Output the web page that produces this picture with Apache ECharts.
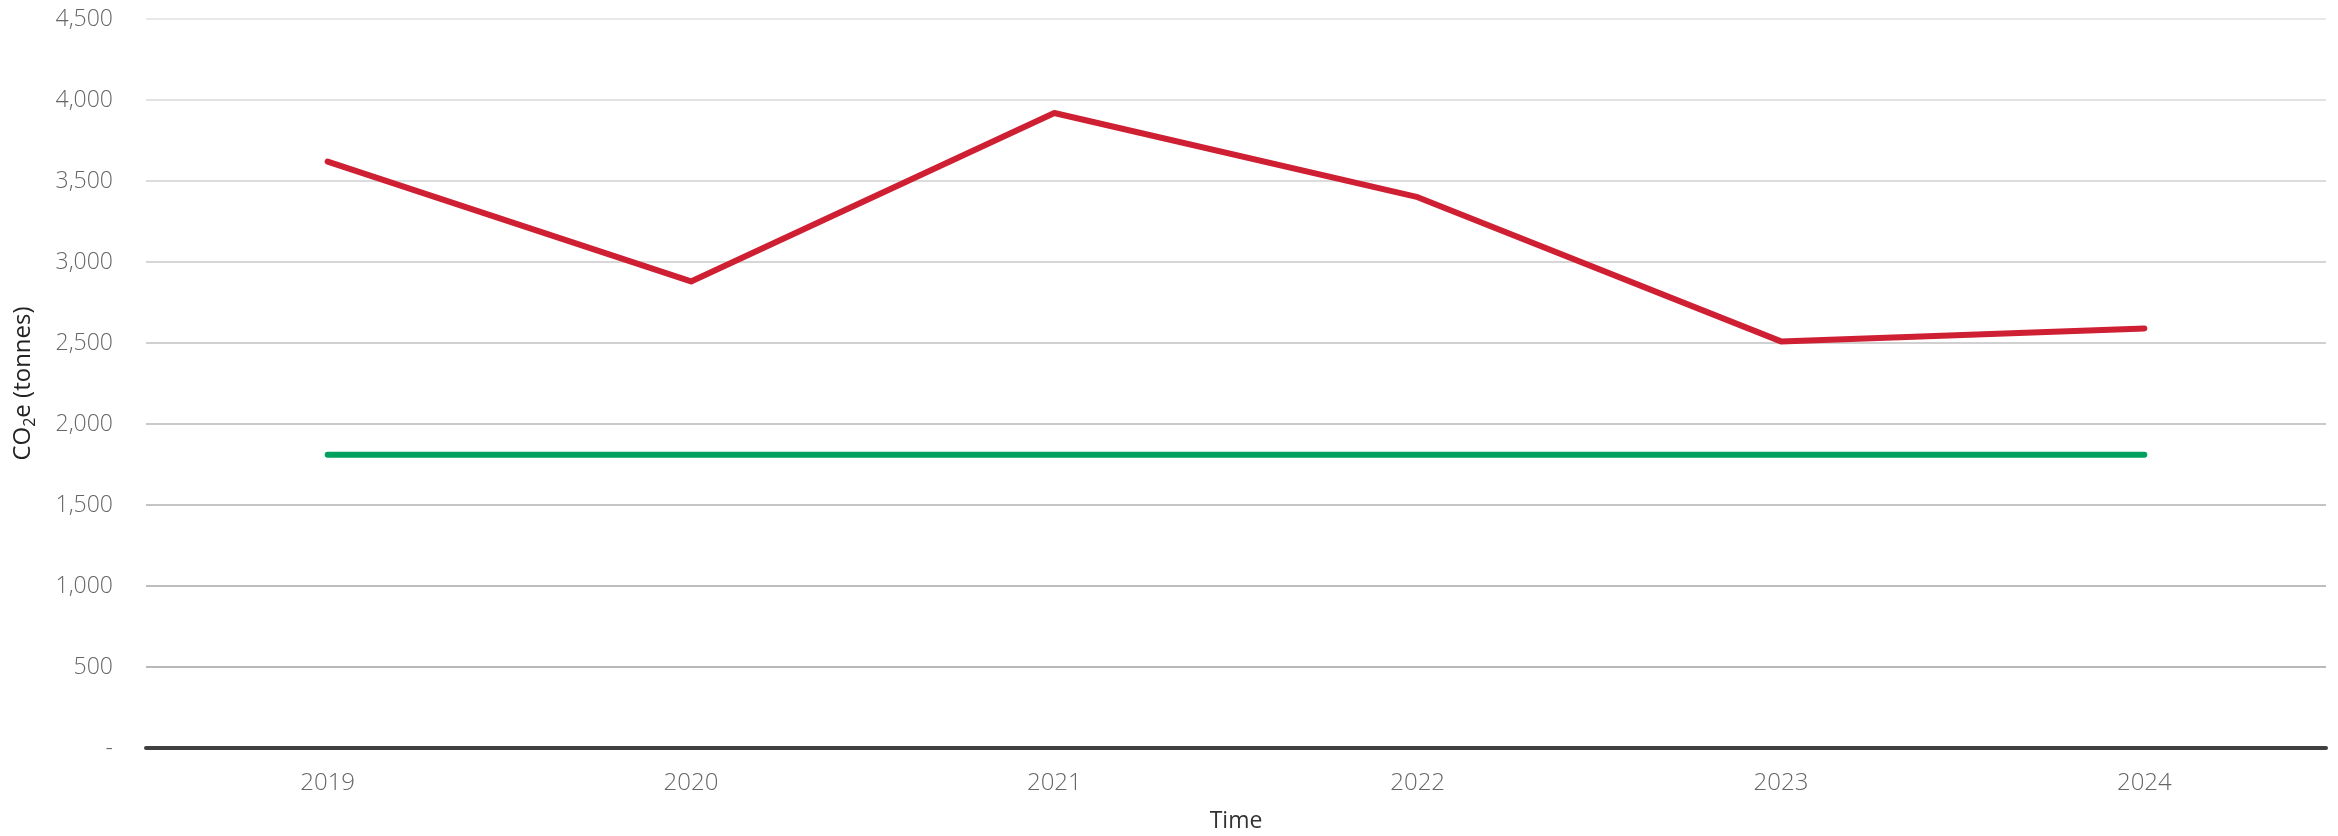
<!DOCTYPE html>
<html>
<head>
<meta charset="utf-8">
<script src="https://cdn.jsdelivr.net/npm/echarts@6/dist/echarts.min.js"></script>
<style>
  html, body { margin: 0; padding: 0; background: #fff; }
  #chart { width: 2338px; height: 836px; }
</style>
</head>
<body>
<div id="chart"></div>
<script>
const years = ['2019', '2020', '2021', '2022', '2023', '2024']
const emissions = [3620, 2880, 3920, 3400, 2510, 2590]
const target = [1810, 1810, 1810, 1810, 1810, 1810]

// gridline shades, bottom to top
const gridColors = ['#9a9a9a', '#a0a0a0', '#a8a8a8', '#b0b0b0', '#b8b8b8', '#c0c0c0', '#c8c8c8', '#d0d0d0', '#d8d8d8', '#e0e0e0']

const chart = echarts.init(document.getElementById('chart'))

chart.setOption({
  backgroundColor: '#fff',
  textStyle: { fontFamily: 'Open Sans' },
  animation: false,
  // x axis title drawn as a title so it doesn't squeeze the grid
  title: {
    text: 'Time',
    left: 1236,
    top: 810,
    textAlign: 'center',
    padding: 0,
    textStyle: { color: '#333', fontSize: 23, fontWeight: 'normal', fontFamily: 'Open Sans' }
  },
  grid: { left: 146, right: 12, top: 19, bottom: 88 },
  xAxis: {
    type: 'category',
    data: years,
    boundaryGap: true,
    axisLine: { lineStyle: { color: '#404040', width: 4 } },
    axisTick: { show: false },
    axisLabel: { color: '#666', fontSize: 24, fontWeight: 300, margin: 23 }
  },
  yAxis: {
    type: 'value',
    min: 0,
    max: 4500,
    interval: 500,
    name: '{a|CO}{b|2}{a|e (tonnes)}',
    nameLocation: 'middle',
    nameGap: 108,
    nameTextStyle: {
      rich: {
        a: { color: '#222', fontSize: 24, fontFamily: 'Open Sans' },
        b: { color: '#222', fontSize: 16, fontFamily: 'Open Sans', padding: [13, 0, 0, 0] }
      }
    },
    axisLine: { show: false },
    axisTick: { show: false },
    axisLabel: {
      color: '#666',
      fontSize: 23,
      fontWeight: 300,
      margin: 33,
      formatter: v => v === 0 ? '-' : v.toLocaleString('en-US')
    },
    splitLine: { lineStyle: { color: gridColors, width: 1.5 } }
  },
  series: [
    {
      type: 'line',
      data: emissions,
      symbol: 'none',
      lineStyle: { color: '#cf1f33', width: 6, cap: 'round', join: 'round' },
      z: 3
    },
    {
      type: 'line',
      data: target,
      symbol: 'none',
      lineStyle: { color: '#00a05e', width: 6, cap: 'round' },
      z: 2
    }
  ]
})
</script>
</body>
</html>
